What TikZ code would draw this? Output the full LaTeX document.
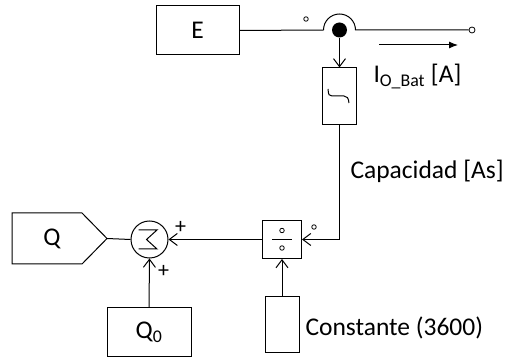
\documentclass[tikz,border=0pt]{standalone}
\usepackage{fontspec}
\setmainfont{Carlito}
\usetikzlibrary{arrows.meta}
\begin{document}
\begin{tikzpicture}[x=1pt,y=-1pt,line width=1pt,
  blk/.style={draw,rectangle,inner sep=0pt,font=\fontsize{25.5}{30}\selectfont},
  lbl/.style={inner sep=0pt,font=\fontsize{25.5}{30}\selectfont},
  plusl/.style={inner sep=0pt,font=\fontsize{22}{26}\selectfont},
  vtip/.style={-{Straight Barb[length=8pt,width=12pt]}},
  port/.style={draw,circle,inner sep=0pt,minimum size=4.5pt,line width=0.8pt}]
\useasboundingbox (0,0) rectangle (507,358);
% E block and top line
\node[blk,minimum width=83pt,minimum height=49pt] (E) at (197.5,30.5) {E};
\coordinate (hopL) at (323.5,30);
\coordinate (hopR) at (355.5,30);
\node[port,minimum size=6pt] (out) at (472,30) {};
\node[circle,fill,inner sep=0pt,minimum size=15pt] (dot) at (339.5,30) {};
\draw (E.east) -- (hopL) arc[start angle=180,end angle=0,radius=16pt] -- (out.west);
\node[port] (p1) at (306,19) {};
% current arrow
\coordinate (a1) at (379,45);
\coordinate (a2) at (458,45);
\draw[-{Latex[length=9pt,width=7pt]}] (a1) -- (a2);
\node[lbl,anchor=base west] (Ilbl) at (373,83) {I\textsubscript{O\_Bat} [A]};
% filter block
\node[draw,rectangle,minimum width=34pt,minimum height=57pt] (filt) at (339.5,96.5) {};
\draw[vtip] (dot.south) -- (filt.north);
\draw ([shift={(-11.5,-7.5)}]filt.center) .. controls +(0.5,6) and +(-3,0) .. ++(4,7) -- ++(12,0) .. controls +(3,0) and +(-0.5,-5) .. ++(5,7);
\node[lbl,anchor=base west] (caplbl) at (350,179) {Capacidad [As]};
% divide block
\node[draw,rectangle,minimum width=39pt,minimum height=38pt] (div) at (282,239.5) {};
\node[port] (d1) at (282,230.5) {};
\node[port] (d2) at (282,248) {};
\draw ([shift={(-10,0)}]div.center) -- ([shift={(10,0)}]div.center);
\draw[vtip] (filt.south) |- (div.east);
\node[port] (p2) at (314,227) {};
% constant block
\node[draw,rectangle,minimum width=34pt,minimum height=56pt] (const) at (282,325) {};
\draw[vtip] (const.north) -- (div.south);
\node[lbl,anchor=base west] (constlbl) at (305,336) {Constante (3600)};
% sum
\node[draw,circle,inner sep=0pt,minimum size=37pt] (sum) at (149.5,239.5) {};
\draw ([shift={(-11,-9.5)}]sum.center) -- ++(18.5,0) -- ++(-10.5,9.5) -- ++(10.5,9.5) -- ++(-18.5,0);
\draw[vtip] (div.west) -- (sum.east);
\node[plusl] (plus1) at (180.5,227) {+};
\node[plusl] (plus2) at (163.5,271) {+};
% Q output
\draw (12,213) -- (82,213) -- (107,238.5) -- (82,264) -- (12,264) -- cycle;
\node[lbl] (Q) at (52,239) {Q};
\coordinate (Qtip) at (107,238.5);
\draw (Qtip) -- (sum.west);
% Q0 block
\node[blk,minimum width=84pt,minimum height=49pt] (Q0) at (149,332.5) {Q\textsubscript{0}};
\draw[vtip] (Q0.north) -- (sum.south);
\end{tikzpicture}
\end{document}
